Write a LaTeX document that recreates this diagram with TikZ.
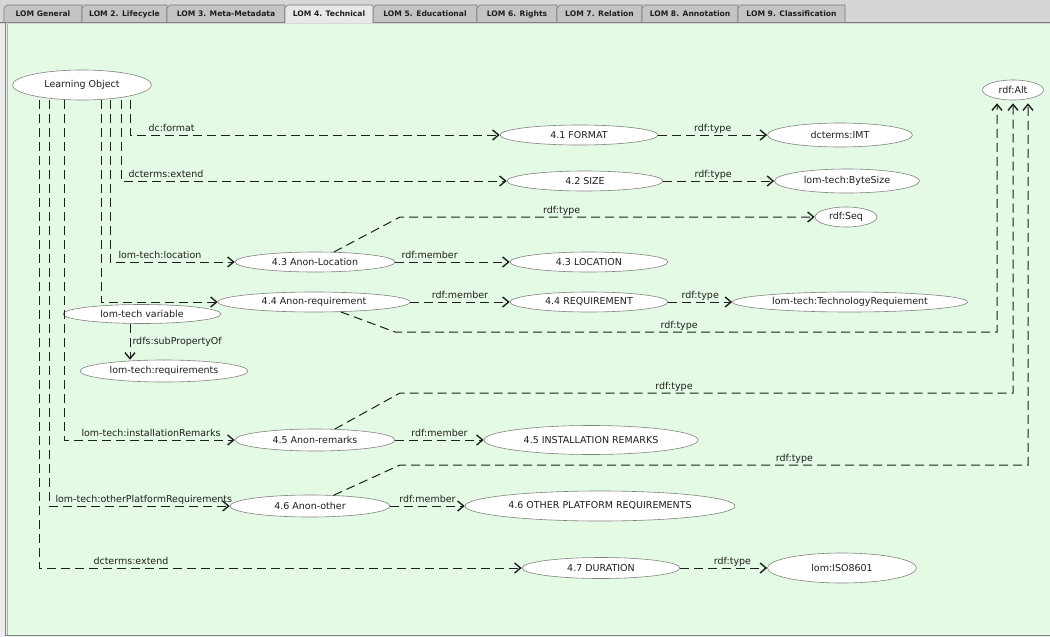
\documentclass[tikz,border=0pt]{standalone}
\usepackage{fontspec}
\setmainfont{DejaVu Sans}
\usetikzlibrary{shapes.geometric,arrows.meta}
\definecolor{panelgreen}{RGB}{228,250,228}
\definecolor{barbg}{RGB}{214,214,214}
\definecolor{tabfill}{RGB}{196,196,196}
\definecolor{tabactive}{RGB}{232,232,232}
\definecolor{tabborder}{RGB}{120,120,120}
\definecolor{nodegray}{RGB}{130,130,130}
\definecolor{textdark}{RGB}{30,30,30}
\definecolor{edgedark}{RGB}{30,30,30}
\definecolor{outergray}{RGB}{236,236,236}
\tikzset{
  ent/.style={ellipse, draw=nodegray, fill=white, line width=0.6pt, inner sep=0pt, text=textdark},
  sz/.style 2 args={minimum width=#1pt, minimum height=#2pt},
  edge/.style={draw=edgedark, line width=1pt, dash pattern=on 9pt off 5pt,
    -{Straight Barb[length=6pt,width=10pt,line width=1.4pt]}},
  lbl/.style={text=textdark, inner sep=1pt, text height=7pt, text depth=2.5pt},
  tabtext/.style={font=\fontsize{7.6}{9}\selectfont\bfseries, text=textdark, inner sep=0pt},
}
\begin{document}
\begin{tikzpicture}[x=1pt,y=-1pt, font=\fontsize{9.5}{11}\selectfont]
\useasboundingbox (0,0) rectangle (1050,637);
% background and panel
\fill[barbg] (0,0) rectangle (1050,24);
\fill[outergray] (0,24) rectangle (1050,637);
\fill[panelgreen] (7,24) rectangle (1050,635);
\draw[tabborder, line width=0.8pt] (0,22.5) -- (1050,22.5);
\draw[nodegray, line width=0.8pt] (5.5,23) -- (5.5,635.5) -- (1050,635.5);
\draw[tabborder!60, line width=0.6pt] (7.5,24) -- (7.5,634.5);
% tabs
\foreach \a/\b/\t [count=\i] in {4/82/LOM General, 82/167/LOM 2. Lifecycle, 167/285/LOM 3. Meta-Metadata, 373/477/LOM 5. Educational, 477/557/LOM 6. Rights, 557/642/LOM 7. Relation, 642/738/LOM 8. Annotation, 738/845/LOM 9. Classification}{
  \filldraw[fill=tabfill, draw=tabborder, line width=0.6pt] (\a,22) -- (\a,8) -- ({\a+3},5) -- (\b,5) -- (\b,22);
  \node[tabtext] (tab\i) at ({(\a+\b)/2},14) {\t};
}
\filldraw[fill=tabactive, draw=tabborder, line width=0.6pt] (285,23) -- (285,8) -- (288,5) -- (373,5) -- (373,23);
\node[tabtext] (tabact) at (329,14) {LOM 4. Technical};

% nodes
\node[ent, sz={139}{30}] (lo) at (82,85) {Learning Object};
\node[ent, sz={158}{20}] (f41) at (579,135) {4.1 FORMAT};
\node[ent, sz={145}{24}] (imt) at (840,135) {dcterms:IMT};
\node[ent, sz={156}{20}] (size) at (585,181) {4.2 SIZE};
\node[ent, sz={145}{24}] (byte) at (847,181) {lom-tech:ByteSize};
\node[ent, sz={62}{20}] (seq) at (846,217) {rdf:Seq};
\node[ent, sz={61}{20}] (alt) at (1013,90) {rdf:Alt};
\node[ent, sz={160}{20}] (anonloc) at (315,262) {4.3 Anon-Location};
\node[ent, sz={158}{20}] (loc) at (589,262) {4.3 LOCATION};
\node[ent, sz={192}{20}] (anonreq) at (314,302) {4.4 Anon-requirement};
\node[ent, sz={158}{20}] (req) at (589,302) {4.4 REQUIREMENT};
\node[ent, sz={235}{20}] (techreq) at (850,302) {lom-tech:TechnologyRequiement};
\node[ent, sz={158}{19}] (var) at (142,314) {lom-tech variable};
\node[ent, sz={168}{22}] (reqs) at (164,371) {lom-tech:requirements};
\node[ent, sz={160}{22}] (anonrem) at (315,440) {4.5 Anon-remarks};
\node[ent, sz={214}{29}] (instrem) at (591,440) {4.5 INSTALLATION REMARKS};
\node[ent, sz={160}{22}] (anonoth) at (310,506) {4.6 Anon-other};
\node[ent, sz={270}{30}] (oth) at (600,506) {4.6 OTHER PLATFORM REQUIREMENTS};
\node[ent, sz={158}{21}] (dur) at (601,568) {4.7 DURATION};
\node[ent, sz={149}{30}] (iso) at (842,568) {lom:ISO8601};

% bend points
\coordinate (b1) at (400,217);
\coordinate (b2) at (395,332);
\coordinate (b3) at (400,393);
\coordinate (b4) at (400,465);
\coordinate (altA) at ([xshift=-16pt,yshift=-3pt]alt.south);
\coordinate (altB) at ([yshift=-3pt]alt.south);
\coordinate (altC) at ([xshift=15pt,yshift=-3pt]alt.south);

% edges from Learning Object
\draw[edge] (lo.south -| 130,0) |- node[lbl, pos=0.5, above right, xshift=17pt]{dc:format} (f41);
\draw[edge] (lo.south -| 121,0) |- node[lbl, pos=0.5, above right, xshift=6pt]{dcterms:extend} (size);
\draw[edge] (lo.south -| 110,0) |- node[lbl, pos=0.5, above right, xshift=7pt]{lom-tech:location} (anonloc);
\draw[edge] (lo.south -| 101,0) |- (anonreq);
\draw[edge] (lo.south -| 64,0) |- node[lbl, pos=0.5, above right, xshift=16pt]{lom-tech:installationRemarks} (anonrem);
\draw[edge] (lo.south -| 49,0) |- node[lbl, pos=0.5, above right, xshift=5pt]{lom-tech:otherPlatformRequirements} (anonoth);
\draw[edge] (lo.south -| 39,0) |- node[lbl, pos=0.5, above right, xshift=53pt]{dcterms:extend} (dur);

% other edges
\draw[edge] (var.south -| 130,0) -- node[lbl, right, inner sep=2pt]{rdfs:subPropertyOf} (reqs.north -| 130,0);
\draw[edge] (f41) -- node[lbl, above]{rdf:type} (imt);
\draw[edge] (size) -- node[lbl, above, pos=0.45]{rdf:type} (byte);
\draw[edge] (anonloc) -- (b1) -- node[lbl, above, pos=0.39]{rdf:type} (seq);
\draw[edge] (anonloc) -- node[lbl, above, pos=0.3]{rdf:member} (loc);
\draw[edge] (anonreq) -- node[lbl, above]{rdf:member} (req);
\draw[edge] (req) -- node[lbl, above]{rdf:type} (techreq);
\draw[edge] (anonreq) -- (b2) -| node[lbl, above, pos=0.236]{rdf:type} (altA);
\draw[edge] (anonrem) -- (b3) -| node[lbl, above, pos=0.2235]{rdf:type} (altB);
\draw[edge] (anonoth) -- (b4) -| node[lbl, above, pos=0.314]{rdf:type} (altC);
\draw[edge] (anonrem) -- node[lbl, above]{rdf:member} (instrem);
\draw[edge] (anonoth) -- node[lbl, above]{rdf:member} (oth);
\draw[edge] (dur) -- node[lbl, above, pos=0.6]{rdf:type} (iso);
\end{tikzpicture}
\end{document}
